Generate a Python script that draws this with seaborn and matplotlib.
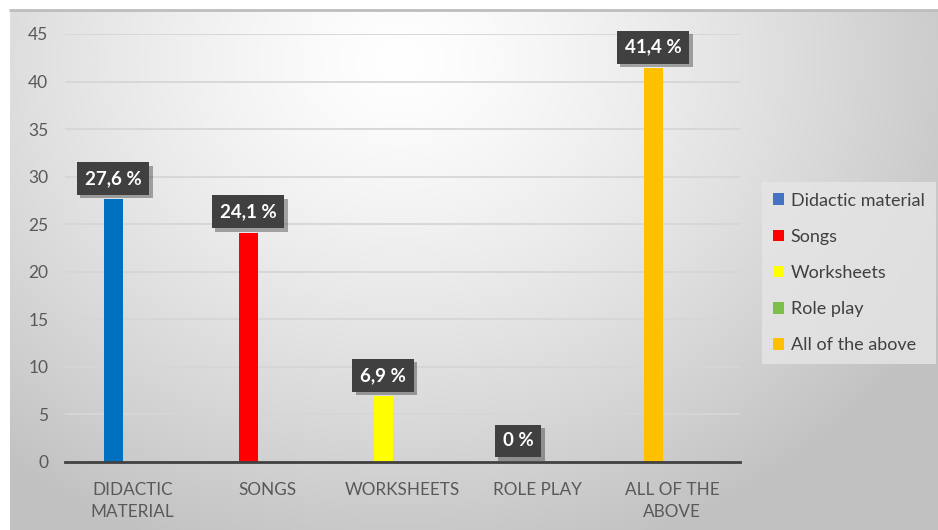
import numpy as np
import pandas as pd
import matplotlib
matplotlib.use("Agg")
import matplotlib.pyplot as plt
import seaborn as sns
from matplotlib.patches import Patch
import matplotlib.patheffects as pe

categories = ["DIDACTIC\nMATERIAL", "SONGS", "WORKSHEETS", "ROLE PLAY", "ALL OF THE\nABOVE"]
series_names = ["Didactic material", "Songs", "Worksheets", "Role play", "All of the above"]
values = [27.6, 24.1, 6.9, 0.0, 41.4]
value_labels = ["27,6 %", "24,1 %", "6,9 %", "0 %", "41,4 %"]
bar_colors = ["#0070C0", "#FF0000", "#FFFF00", "#92D050", "#FFC000"]
legend_colors = ["#4472C4", "#FF0000", "#FFFF00", "#7CC04B", "#FFC000"]
yticks = [0, 5, 10, 15, 20, 25, 30, 35, 40, 45]

sns.set_theme(style="white")
plt.rcParams['font.family'] = ['Lato', 'DejaVu Sans']

W, H = 938, 530
fig = plt.figure(figsize=(W / 100, H / 100), dpi=100)
fig.patch.set_facecolor("white")

# background gradient
bg = fig.add_axes([10 / W, 0, 1 - 10 / W, 1 - 10 / H], zorder=-10)
gx, gy = np.meshgrid(np.linspace(10, W, 400), np.linspace(10, H, 240))
d = np.sqrt(((gx - 400) / 620) ** 2 + ((gy - 60) / 520) ** 2)
d = np.clip(d, 0, 1)
shade = 1.0 - 0.24 * d ** 1.3
bg.imshow(np.dstack([shade, shade, shade]), aspect="auto", extent=[0, 1, 0, 1], origin="upper")
bg.axis("off")
fig.add_artist(plt.Line2D([10 / W, 1], [1 - 10 / H, 1 - 10 / H], color="#bdbdbd", lw=2))

ax = fig.add_axes([65 / W, 1 - 462 / H, (740 - 65) / W, (462 - 34) / H])
ax.set_facecolor("none")

df = pd.DataFrame({"cat": categories, "val": values, "series": series_names})
sns.barplot(data=df, x="cat", y="val", hue="cat", palette=bar_colors, width=0.14,
            legend=False, ax=ax, zorder=3, saturation=1, linewidth=0, edgecolor="none")

off = 0.142
ax.set_xlim(-0.356, 4.644)
ax.set_ylim(0, 45)
ax.set_yticks(yticks)
ax.set_yticklabels([str(t) for t in yticks], color="#595959", fontsize=12.5)
ax.set_xticks([i + off for i in range(len(categories))])
ax.set_xticklabels(categories, color="#595959", fontsize=12.3, linespacing=1.45)
ax.tick_params(axis="x", length=0, pad=14.5)
ax.tick_params(axis="y", length=0, pad=12)
ax.set_xlabel("")
ax.set_ylabel("")
ax.yaxis.grid(True, color="#d6d6d6", lw=1.3, zorder=0)
for s in ["top", "right", "left"]:
    ax.spines[s].set_visible(False)
ax.spines["bottom"].set_color("#404040")
ax.spines["bottom"].set_linewidth(2)
ax.spines["bottom"].set_zorder(4)

for i, (v, lab) in enumerate(zip(values, value_labels)):
    t = ax.annotate(lab, xy=(i, v), xytext=(0, 21), textcoords="offset pixels",
                    ha="center", va="center", color="white", fontsize=13.5,
                    fontweight="bold", zorder=6,
                    bbox=dict(boxstyle="square,pad=0.42", fc="#404040", ec="none"))
    t.get_bbox_patch().set_path_effects([pe.SimplePatchShadow(offset=(2.5, -2.5), alpha=0.35),
                                         pe.Normal()])

handles = [Patch(facecolor=c, edgecolor="none", label=n) for c, n in zip(legend_colors, series_names)]
leg = fig.legend(handles=handles, loc="center left", bbox_to_anchor=(762 / W, 1 - 273 / H),
                 frameon=True, fontsize=13, handlelength=0.6, handleheight=0.6,
                 handletextpad=0.4, labelspacing=1.12, borderpad=0.6, borderaxespad=0,
                 fancybox=False)
leg.get_frame().set_facecolor("#e6e6e6")
leg.get_frame().set_edgecolor("none")
for txt in leg.get_texts():
    txt.set_color("#404040")

fig.savefig("out.png", dpi=100)
